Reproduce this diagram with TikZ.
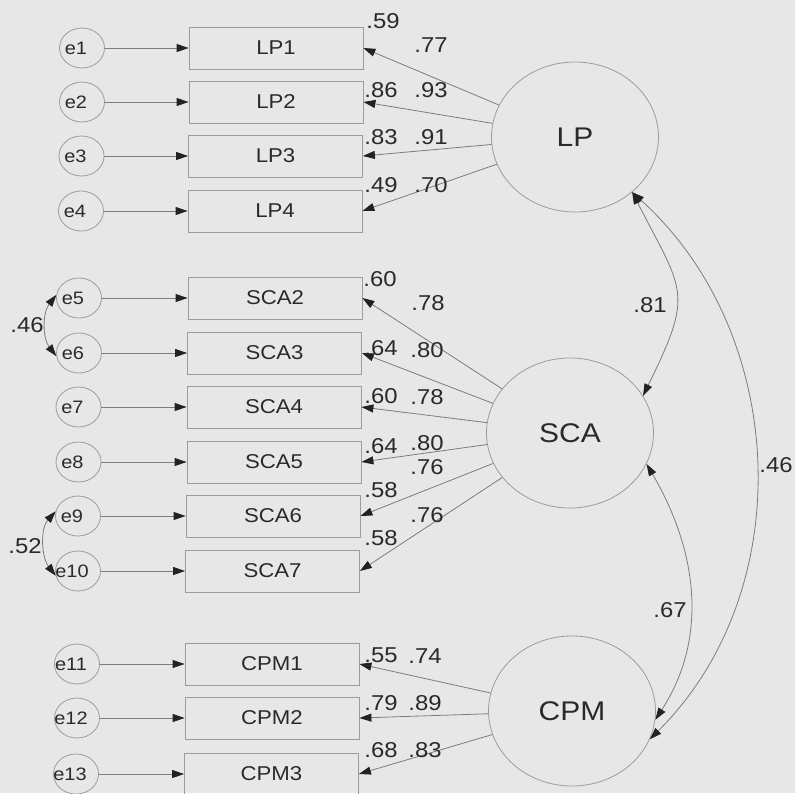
\documentclass[tikz,border=0pt]{standalone}
\usepackage{fontspec}
\setmainfont{Liberation Sans}[FakeStretch=1.11]
\usetikzlibrary{arrows.meta,shapes.geometric}
\definecolor{bg}{HTML}{E7E7E7}
\definecolor{ink}{HTML}{2A2A2A}
\definecolor{ln}{HTML}{7C7C7C}
\definecolor{bx}{HTML}{9C9C9C}
\definecolor{tipc}{HTML}{222222}
\begin{document}
\begin{tikzpicture}[x=1pt,y=-1pt,
  >={Triangle[length=12pt,width=8pt,color=tipc]},
  errc/.style={ellipse, draw=bx, line width=0.8pt, minimum width=45pt, minimum height=40pt, inner sep=0pt},
  obs/.style={rectangle, draw=bx, line width=0.8pt, minimum width=174pt, minimum height=42pt, inner sep=0pt, font=\fontsize{20}{20}\selectfont, text=ink},
  lat/.style={ellipse, draw=bx, line width=0.8pt, minimum width=167pt, minimum height=150pt, inner sep=0pt, font=\fontsize{27}{27}\selectfont, text=ink},
  etxt/.style={font=\fontsize{18}{18}\selectfont, text=ink, inner sep=0pt},
  num/.style={font=\fontsize{21.5}{21.5}\selectfont, text=ink, inner sep=0pt},
  pth/.style={draw=ln, line width=0.8pt, ->},
  cov/.style={draw=ln, line width=0.8pt, <->}
]
\useasboundingbox (0,0) rectangle (795,793);
\fill[bg] (0,0) rectangle (795,793);
\clip (0,0) rectangle (795,793);

% latent variables
\node[lat] (LP)  at (575,137) {LP};
\node[lat] (SCA) at (570,433) {SCA};
\node[lat] (CPM) at (572,711) {CPM};

% observed variables
\node[obs] (LP1)  at (276,48)    {LP1};
\node[obs] (LP2)  at (276,102)   {LP2};
\node[obs] (LP3)  at (275.5,156) {LP3};
\node[obs] (LP4)  at (275,211)   {LP4};
\node[obs] (SCA2) at (275,298)   {SCA2};
\node[obs] (SCA3) at (274.5,353) {SCA3};
\node[obs] (SCA4) at (274,407)   {SCA4};
\node[obs] (SCA5) at (274,462)   {SCA5};
\node[obs] (SCA6) at (273,516)   {SCA6};
\node[obs] (SCA7) at (272.5,571) {SCA7};
\node[obs] (CPM1) at (272,664)   {CPM1};
\node[obs] (CPM2) at (272,718)   {CPM2};
\node[obs] (CPM3) at (271.5,774) {CPM3};

% error terms
\foreach \n/\x/\y/\t in {1/82/48/LP1, 2/82/102/LP2, 3/81.5/156/LP3, 4/81/211/LP4,
  5/79/298/SCA2, 6/79/353/SCA3, 7/78.5/407/SCA4, 8/78.5/462/SCA5,
  9/78/516/SCA6, 10/78/571/SCA7, 11/77/664/CPM1, 12/77/718/CPM2, 13/76/774/CPM3}{
  \node[errc] (e\n) at (\x,\y) {};
  \node[etxt] (te\n) at ([xshift=-6pt]e\n.center) {e\n};
  \draw[pth] (e\n) -- (\t.west);
}

% loadings
\foreach \b in {LP1,LP2,LP3,LP4}{\draw[pth] (LP) -- (\b.east);}
\foreach \b in {SCA2,SCA3,SCA4,SCA5,SCA6,SCA7}{\draw[pth] (SCA) -- (\b.east);}
\foreach \b in {CPM1,CPM2,CPM3}{\draw[pth] (CPM) -- (\b.east);}

% covariances between latent variables
\draw[cov] (LP.-44) .. controls (684,293) and (694,292) .. (SCA.27);
\draw[cov] (SCA.-22) .. controls (697,550) and (709,637) .. (CPM.-6);
\draw[cov] (LP.-44) .. controls (788,333) and (800,590) .. (CPM.-20);

% error covariances
\draw[cov] (e5.172) .. controls +(-14,18) and +(-14,-18) .. (e6.188);
\draw[cov] (e9.168) .. controls +(-16,18) and +(-14,-18) .. (e10.192);

% loading labels
\node[num] (l1)  at (431,45)  {.77};
\node[num] (l2)  at (431,90)  {.93};
\node[num] (l3)  at (431,137) {.91};
\node[num] (l4)  at (431,185) {.70};
\node[num] (l5)  at (428,303) {.78};
\node[num] (l6)  at (427,350) {.80};
\node[num] (l7)  at (427,397) {.78};
\node[num] (l8)  at (427,443) {.80};
\node[num] (l9)  at (427,467) {.76};
\node[num] (l10) at (427,515) {.76};
\node[num] (l11) at (425,656) {.74};
\node[num] (l12) at (425,703) {.89};
\node[num] (l13) at (425,750) {.83};

% squared multiple correlations
\node[num] (r1)  at (383,21)  {.59};
\node[num] (r2)  at (381,90)  {.86};
\node[num] (r3)  at (381,137) {.83};
\node[num] (r4)  at (381,185) {.49};
\node[num] (r5)  at (380,279) {.60};
\node[num] (r6)  at (381,348) {.64};
\node[num] (r7)  at (381,396) {.60};
\node[num] (r8)  at (381,446) {.64};
\node[num] (r9)  at (381,490) {.58};
\node[num] (r10) at (381,538) {.58};
\node[num] (r11) at (381,655) {.55};
\node[num] (r12) at (381,703) {.79};
\node[num] (r13) at (381,750) {.68};

% covariance labels
\node[num] (c1) at (650,305) {.81};
\node[num] (c2) at (670,610) {.67};
\node[num] (c3) at (776,465) {.46};
\node[num] (c4) at (27,325)  {.46};
\node[num] (c5) at (25,546)  {.52};
\end{tikzpicture}
\end{document}
